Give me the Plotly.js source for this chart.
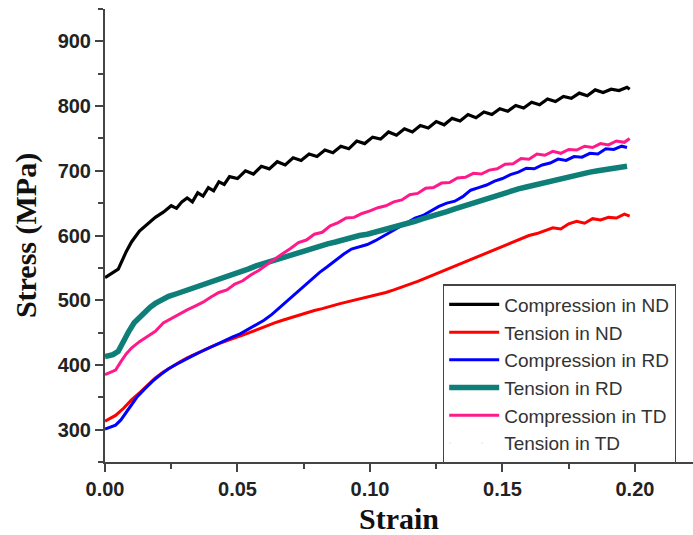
<!DOCTYPE html>
<html>
<head>
<meta charset="utf-8">
<script src="https://cdn.plot.ly/plotly-3.0.1.min.js"></script>
<style>html,body{margin:0;padding:0;background:#fff;overflow:hidden}#chart{width:693px;height:535px}</style>
</head>
<body>
<div id="chart"></div>
<script>
// Compression in ND
var compND_x = [0.000,0.003,0.005,0.008,0.010,0.013,0.016,0.019,0.022,0.025,0.027,0.029,0.031,0.033,0.035,0.037,0.039,0.041,0.043,0.045,0.047,0.050,0.053,0.056,0.059,0.062,0.065,0.068,0.071,0.074,0.077,0.080,0.083,0.086,0.089,0.092,0.095,0.098,0.101,0.104,0.107,0.110,0.113,0.116,0.119,0.122,0.125,0.128,0.131,0.134,0.137,0.140,0.143,0.146,0.149,0.152,0.155,0.158,0.161,0.164,0.167,0.170,0.173,0.176,0.179,0.182,0.185,0.188,0.191,0.194,0.197,0.198];
var compND_y = [535,542,548,575,590,607,618,628,636,646,642,652,658,652,666,661,674,669,683,679,691,688,700,695,707,703,714,709,720,716,726,722,732,728,738,734,746,742,752,749,760,755,765,760,770,766,776,771,781,777,787,782,791,787,796,792,801,797,806,802,811,807,815,812,820,816,825,821,826,824,829,826];

// Tension in ND
var tenND_x = [0.000,0.004,0.007,0.010,0.013,0.016,0.019,0.022,0.025,0.028,0.031,0.034,0.037,0.040,0.043,0.046,0.049,0.052,0.055,0.058,0.061,0.064,0.067,0.070,0.073,0.076,0.079,0.082,0.085,0.088,0.091,0.094,0.097,0.100,0.103,0.106,0.109,0.112,0.115,0.118,0.121,0.124,0.127,0.130,0.133,0.136,0.139,0.142,0.145,0.148,0.151,0.154,0.157,0.160,0.163,0.166,0.169,0.172,0.175,0.178,0.181,0.184,0.187,0.190,0.193,0.196,0.198];
var tenND_y = [313,322,333,346,357,369,380,389,397,404,411,417,423,428,433,438,442,446,451,456,461,465,469,473,477,481,484,487,491,494,497,500,502,505,508,512,516,520,524,529,534,539,544,549,555,559,564,570,575,580,585,590,594,600,603,608,612,610,618,622,619,626,624,628,627,633,630];

// Compression in RD
var compRD_x = [0.000,0.004,0.006,0.009,0.012,0.015,0.018,0.021,0.024,0.027,0.030,0.033,0.036,0.039,0.042,0.045,0.048,0.051,0.054,0.057,0.060,0.063,0.066,0.069,0.072,0.075,0.078,0.081,0.084,0.087,0.090,0.093,0.096,0.099,0.102,0.105,0.108,0.111,0.114,0.117,0.120,0.123,0.126,0.129,0.132,0.135,0.138,0.141,0.144,0.147,0.150,0.153,0.156,0.159,0.162,0.165,0.168,0.171,0.174,0.177,0.180,0.183,0.186,0.189,0.192,0.195,0.197];
var compRD_y = [301,307,315,333,350,363,375,385,394,401,408,414,420,426,432,438,443,448,455,462,469,478,489,500,511,521,532,543,552,562,571,579,583,586,592,599,606,614,621,627,631,638,645,650,653,660,670,674,678,684,688,694,698,704,703,709,712,718,716,722,721,727,726,734,733,738,736];

// Tension in RD
var tenRD_x = [0.000,0.003,0.005,0.007,0.009,0.011,0.013,0.015,0.017,0.019,0.021,0.024,0.027,0.030,0.033,0.036,0.039,0.042,0.045,0.048,0.051,0.054,0.057,0.060,0.063,0.066,0.069,0.072,0.075,0.078,0.081,0.084,0.087,0.090,0.093,0.096,0.099,0.102,0.105,0.108,0.111,0.114,0.117,0.120,0.123,0.126,0.129,0.132,0.135,0.138,0.141,0.144,0.147,0.150,0.153,0.156,0.159,0.162,0.165,0.168,0.171,0.174,0.177,0.180,0.183,0.186,0.189,0.192,0.195,0.197];
var tenRD_y = [413,416,421,438,452,465,474,482,489,495,500,506,510,514,518,523,527,531,536,540,544,548,553,557,561,565,569,573,577,580,583,587,590,594,597,600,602,605,608,612,616,619,622,626,629,633,637,641,645,649,653,658,662,665,669,672,675,678,681,685,688,691,693,696,698,700,702,704,707,707];

// Compression in TD
var compTD_x = [0.000,0.002,0.004,0.006,0.008,0.010,0.013,0.016,0.019,0.022,0.025,0.028,0.031,0.034,0.037,0.040,0.043,0.046,0.049,0.052,0.055,0.058,0.061,0.064,0.067,0.070,0.073,0.076,0.079,0.082,0.085,0.088,0.091,0.094,0.097,0.100,0.103,0.106,0.109,0.112,0.115,0.118,0.121,0.124,0.127,0.130,0.133,0.136,0.139,0.142,0.145,0.148,0.151,0.154,0.157,0.160,0.163,0.166,0.169,0.172,0.175,0.178,0.181,0.184,0.187,0.190,0.193,0.196,0.198];
var compTD_y = [385,388,392,405,417,426,436,444,452,465,472,479,485,491,497,505,512,516,525,530,539,546,555,563,572,580,589,593,602,605,615,620,627,628,634,638,643,646,652,655,663,665,673,674,681,682,689,690,696,695,701,703,710,711,719,718,726,724,730,727,733,732,738,736,742,740,746,744,750];

// Tension in TD (not visible in the plot, only in the legend)
var tenTD_x = [null];
var tenTD_y = [null];

var names = ["Compression in ND","Tension in ND","Compression in RD","Tension in RD","Compression in TD","Tension in TD"];
var xs = [compND_x, tenND_x, compRD_x, tenRD_x, compTD_x, tenTD_x];
var ys = [compND_y, tenND_y, compRD_y, tenRD_y, compTD_y, tenTD_y];
var colors = ["#000000","#ff0000","#0000ff","#0e7f78","#ff1a8c","#e8e8b0"];
var widths = [3.2,3,3,5.5,3,1];
var dashes = ["solid","solid","solid","solid","solid","2px,30px"];

var traces = names.map(function(n,i){
  return {x: xs[i], y: ys[i], name: n, type: "scatter", mode: "lines",
    line: {color: colors[i], width: widths[i], dash: dashes[i]}};
});

var tickFont = {family: "Liberation Sans, Arial, sans-serif", size: 20, color: "#222", weight: "bold"};
var titleFont = {family: "Liberation Serif, Times New Roman, serif", size: 30, color: "#111", weight: "bold"};

var layout = {
  width: 693, height: 535,
  margin: {l: 105, r: 0, t: 9, b: 73},
  paper_bgcolor: "#fff", plot_bgcolor: "#fff",
  showlegend: true,
  legend: {x: 0.5748, y: 0.392, xanchor: "left", yanchor: "top",
    bgcolor: "#fff", bordercolor: "#444", borderwidth: 1.2,
    font: {family: "Liberation Sans, Arial, sans-serif", size: 19, color: "#333"},
    itemwidth: 50, tracegroupgap: 0},
  xaxis: {range: [0, 0.2219], tickvals: [0,0.05,0.10,0.15,0.20], ticktext: ["0.00","0.05","0.10","0.15","0.20"],
    ticks: "outside", ticklen: 8, tickwidth: 1.5, tickcolor: "#444",
    showline: true, linecolor: "#444", linewidth: 2, showgrid: false, zeroline: false,
    tickfont: tickFont,
    minor: {tickvals: [0.025,0.075,0.125,0.175,0.225], ticks: "outside", ticklen: 5, tickwidth: 1.5, tickcolor: "#444", showgrid: false},
    title: {text: "Strain", font: titleFont, standoff: 14}},
  yaxis: {range: [250, 950], tickvals: [300,400,500,600,700,800,900],
    ticks: "outside", ticklen: 8, tickwidth: 1.5, tickcolor: "#444",
    showline: true, linecolor: "#444", linewidth: 2, showgrid: false, zeroline: false,
    tickfont: tickFont,
    minor: {tickvals: [250,350,450,550,650,750,850,950], ticks: "outside", ticklen: 5, tickwidth: 1.5, tickcolor: "#444", showgrid: false},
    title: {text: "Stress (MPa)", font: titleFont, standoff: 12}}
};

Plotly.newPlot("chart", traces, layout, {displayModeBar: false, responsive: false});
</script>
</body>
</html>
